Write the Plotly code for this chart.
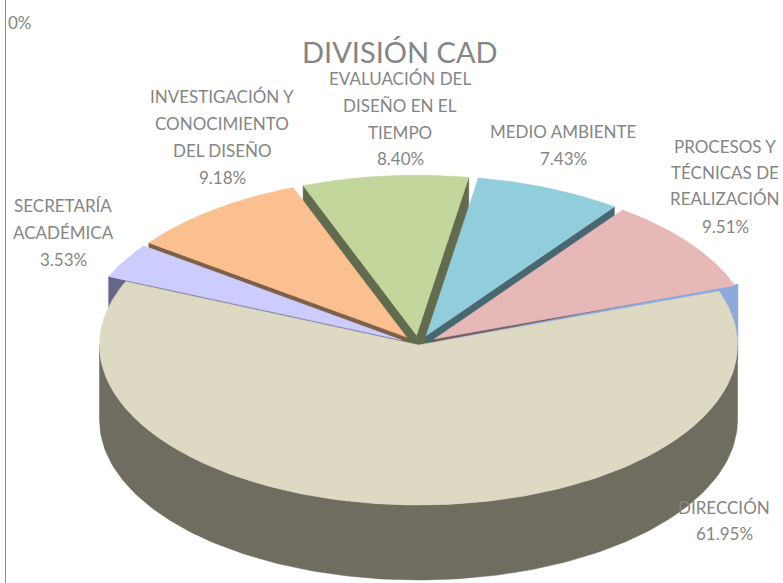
import math
import plotly.graph_objects as go

# ---- data ----
names = ["DIRECCIÓN", "SECRETARÍA ACADÉMICA", "INVESTIGACIÓN Y CONOCIMIENTO DEL DISEÑO",
         "EVALUACIÓN DEL DISEÑO EN EL TIEMPO", "MEDIO AMBIENTE",
         "PROCESOS Y TÉCNICAS DE REALIZACIÓN", ""]
values = [61.95, 3.53, 9.18, 8.40, 7.43, 9.51, 0.0]
top_colors = ["#DDD9C3", "#CCCCFF", "#FAC090", "#C3D69B", "#92CDDC", "#E6B9B8", "#8EA9DB"]
wall_colors = ["#6E6D60", "#666689", "#7D6048", "#626B4D", "#496770", "#735C5C", "#8EA9DB"]
exploded = [0, 1, 1, 1, 1, 1, 1.15]
label_lines = [["DIRECCIÓN"], ["SECRETARÍA", "ACADÉMICA"],
               ["INVESTIGACIÓN Y", "CONOCIMIENTO", "DEL DISEÑO"],
               ["EVALUACIÓN DEL", "DISEÑO EN EL", "TIEMPO"], ["MEDIO AMBIENTE"],
               ["PROCESOS Y", "TÉCNICAS DE", "REALIZACIÓN"], []]
title_text = "DIVISIÓN CAD"

# ---- geometry / style ----
W, H = 783, 583
CX, CY, RX, RY, DEPTH = 418.5, 345, 319, 160, 75
START = 19.6          # math degrees, slices run clockwise
EXPLODE = 0.062
ZERO_WALL_TILT = 1.3
GREY = "#858585"
FONT = "Lato"
label_pos = [(724, [507, 533]), (63, [205, 232, 259]), (222, [96, 123, 150, 177]),
             (400, [78, 105, 132, 158]), (563, [131, 158]), (725, [146, 172, 198, 226]),
             (20, [22])]

angles = []
a = START
for v in values:
    b = a - v / sum(values) * 360
    angles.append((a, b))
    a = b


def centre(i):
    a0, a1 = angles[i]
    m = math.radians((a0 + a1) / 2)
    e = EXPLODE * exploded[i]
    return CX + e * RX * math.cos(m), CY - e * RY * math.sin(m)


def rim(c, a0, a1, dy=0, n=160):
    pts = []
    for k in range(n + 1):
        t = math.radians(a0 + (a1 - a0) * k / n)
        pts.append((c[0] + RX * math.cos(t), c[1] - RY * math.sin(t) + dy))
    return pts


def poly(fig, pts, color):
    xs = [p[0] for p in pts] + [pts[0][0]]
    ys = [p[1] for p in pts] + [pts[0][1]]
    fig.add_trace(go.Scatter(x=xs, y=ys, mode="lines", fill="toself", fillcolor=color,
                             line=dict(color=color, width=0.5), hoverinfo="skip", showlegend=False))


def radial_wall(fig, i, ang):
    c = centre(i)
    e = rim(c, ang, ang, n=1)[0]
    poly(fig, [c, e, (e[0], e[1] + DEPTH), (c[0], c[1] + DEPTH)], wall_colors[i])


def top(fig, i):
    c = centre(i)
    poly(fig, [c] + rim(c, *angles[i]), top_colors[i])


fig = go.Figure()

# painter's order, back to front
radial_wall(fig, 3, angles[3][0]); radial_wall(fig, 3, angles[3][1]); top(fig, 3)
radial_wall(fig, 4, angles[4][1]); top(fig, 4)
radial_wall(fig, 2, angles[2][0]); top(fig, 2)
radial_wall(fig, 5, angles[5][1]); radial_wall(fig, 6, angles[6][0] + ZERO_WALL_TILT); top(fig, 5)
radial_wall(fig, 1, angles[1][0]); top(fig, 1)
c0 = centre(0)
poly(fig, rim(c0, 0, -180) + rim(c0, -180, 0, dy=DEPTH), wall_colors[0])
top(fig, 0)

annotations = []


def text(x, y, s, size=17, color=GREY):
    annotations.append(dict(x=x, y=y, xref="x", yref="y", text=s, showarrow=False,
                            xanchor="center", yanchor="middle",
                            font=dict(family=FONT, size=size, color=color)))


for i, v in enumerate(values):
    x, ys = label_pos[i]
    pct = f"{v:.2f}%" if v else "0%"
    for s, y in zip(label_lines[i] + [pct], ys):
        text(x, y, s)
text(400, 51, title_text, size=29)

fig.update_layout(
    width=W, height=H, autosize=False, margin=dict(l=0, r=0, t=0, b=0),
    paper_bgcolor="white", plot_bgcolor="white", showlegend=False,
    xaxis=dict(range=[0, W], visible=False, fixedrange=True),
    yaxis=dict(range=[H, 0], visible=False, fixedrange=True),
    annotations=annotations,
    shapes=[dict(type="line", x0=5.5, x1=5.5, y0=0, y1=H, xref="x", yref="y",
                 line=dict(color="#8C8C8C", width=1))],
)
fig.write_html("out.html", config={"displayModeBar": False},
               post_script="document.body.style.margin='0';document.body.style.overflow='hidden';")
